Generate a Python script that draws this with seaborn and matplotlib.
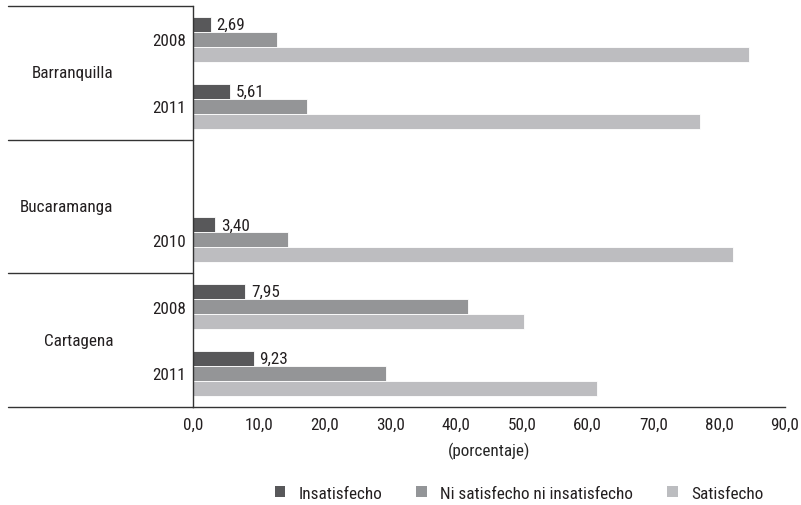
import pandas as pd
import matplotlib.pyplot as plt
import matplotlib.transforms as mtransforms
from matplotlib.patches import Patch
import seaborn as sns

# Datos (porcentaje)
ciudades = ["Barranquilla", "Barranquilla", "Bucaramanga", "Cartagena", "Cartagena"]
anios = ["2008", "2011", "2010", "2008", "2011"]
insatisfecho = [2.69, 5.61, 3.40, 7.95, 9.23]
ni_ni = [12.7, 17.3, 14.5, 41.8, 29.4]
satisfecho = [84.6, 77.1, 82.1, 50.3, 61.4]

categorias = ["Insatisfecho", "Ni satisfecho ni insatisfecho", "Satisfecho"]
colores = ["#58585a", "#939598", "#bcbdc0"]

# filas del eje (Bucaramanga tiene una fila vacía)
filas = ["Barranquilla 2008", "Barranquilla 2011", "Bucaramanga -",
         "Bucaramanga 2010", "Cartagena 2008", "Cartagena 2011"]
etiquetas_filas = ["2008", "2011", "", "2010", "2008", "2011"]
grupos = ["Barranquilla", "Bucaramanga", "Cartagena"]

registros = []
for c, a, v1, v2, v3 in zip(ciudades, anios, insatisfecho, ni_ni, satisfecho):
    for cat, v in zip(categorias, [v1, v2, v3]):
        registros.append({"fila": f"{c} {a}", "categoria": cat, "valor": v})
df = pd.DataFrame(registros)

sns.set_style("white")
plt.rcParams["font.family"] = ["Roboto Condensed", "DejaVu Sans"]
plt.rcParams["text.color"] = "#231f20"
plt.rcParams["xtick.color"] = "#231f20"
plt.rcParams["ytick.color"] = "#231f20"
fs = 12.3

fig = plt.figure(figsize=(8.01, 5.06), dpi=100)
ax = fig.add_axes([0.241, 0.194, 0.739, 0.792])

sns.barplot(
    data=df, y="fila", x="valor", hue="categoria", order=filas,
    hue_order=categorias, palette=colores, orient="h", width=0.67,
    edgecolor="white", linewidth=0.6, legend=False, ax=ax,
)

ax.set_xlim(0, 90)
ax.set_ylim(5.5, -0.5)
ax.set_xticks(range(0, 91, 10))
ax.set_xticklabels([f"{t},0" for t in range(0, 91, 10)], fontsize=fs)
ax.set_yticks(range(len(filas)))
ax.set_yticklabels(etiquetas_filas, fontsize=fs)
ax.tick_params(axis="x", direction="in", length=6, width=1, color="#333333", pad=7)
ax.tick_params(axis="y", length=0, pad=5)
ax.set_xlabel("(porcentaje)", fontsize=fs, labelpad=7)
ax.set_ylabel("")

sns.despine(ax=ax, top=True, right=True)
for s in ["left", "bottom"]:
    ax.spines[s].set_color("#333333")
    ax.spines[s].set_linewidth(1)

# etiquetas de Insatisfecho
cont = ax.containers[0]
ax.bar_label(cont, labels=[f"{v:.2f}".replace(".", ",") for v in insatisfecho],
             padding=4, fontsize=fs)

# separadores de grupo y nombres de ciudad
trans = mtransforms.blended_transform_factory(ax.transAxes, ax.transData)
for yb in [-0.5, 1.5, 3.5, 5.5]:
    ax.plot([-0.3125, 0], [yb, yb], color="#333333", lw=1,
            transform=trans, clip_on=False)
for g, yc in zip(grupos, [0.5, 2.5, 4.5]):
    ax.text(-0.135, yc, g, transform=trans, ha="right", va="center", fontsize=fs)

handles = [Patch(facecolor=c, edgecolor="none") for c in colores]
fig.legend(handles, categorias, loc="lower center", bbox_to_anchor=(0.648, -0.022),
           ncol=3, frameon=False, fontsize=fs, handlelength=0.6,
           handleheight=0.6, columnspacing=2.0, handletextpad=0.8)

plt.savefig("out.png", dpi=100)
plt.close()
